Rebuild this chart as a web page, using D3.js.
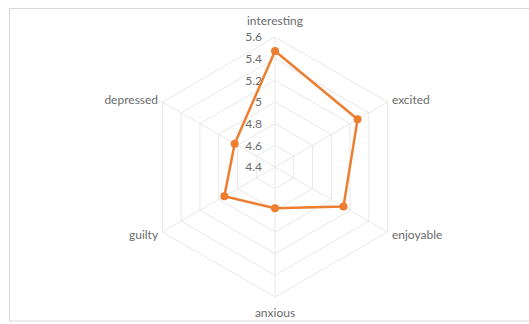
<!DOCTYPE html>
<html>
<head>
<meta charset="utf-8">
<script src="https://cdn.jsdelivr.net/npm/d3@7"></script>
<style>
  body { margin: 0; background: #fff; }
  svg { display: block; }
  text { font-family: Lato, "Open Sans", sans-serif; }
</style>
</head>
<body>
<svg id="radar" width="529" height="324"></svg>
<script>
"use strict";

// Data
var categories = ["interesting", "excited", "enjoyable", "anxious", "guilty", "depressed"];
var values = [5.47, 5.28, 5.13, 4.78, 4.94, 4.83];
var ticks = [4.4, 4.6, 4.8, 5.0, 5.2, 5.4, 5.6];

window.onload = function() {

  var svg = d3.select("#radar");
  var cx = 275;
  var cy = 167;
  var R = 130;
  var orange = "#ED7D31";
  var gridColour = "#e8e8e8";
  var textColour = "#6b6b6b";

  // chart area border
  svg.append("rect")
     .attr("x", 9.5)
     .attr("y", 8.5)
     .attr("width", 540)
     .attr("height", 312.5)
     .attr("fill", "none")
     .attr("stroke", "#d9d9d9");

  var r = d3.scaleLinear().domain([ticks[0], ticks[ticks.length - 1]]).range([0, R]);
  var angle = d3.scalePoint().domain(categories).range([0, 2 * Math.PI * 5 / 6]);

  var g = svg.append("g").attr("transform", "translate(" + cx + "," + cy + ")");

  function xy(cat, rad) {
    var a = angle(cat);
    return [rad * Math.sin(a), -rad * Math.cos(a)];
  }

  // hexagon gridlines
  var gridLine = d3.line().curve(d3.curveLinearClosed);
  ticks.slice(1).forEach(function(t) {
    g.append("path")
     .attr("d", gridLine(categories.map(function(c) { return xy(c, r(t)); })))
     .attr("fill", "none")
     .attr("stroke", gridColour)
     .attr("stroke-width", 1);
  });

  // spokes
  categories.forEach(function(c) {
    var p = xy(c, R);
    g.append("line")
     .attr("x1", 0).attr("y1", 0)
     .attr("x2", p[0]).attr("y2", p[1])
     .attr("stroke", gridColour);
  });

  // tick labels on the top axis
  ticks.forEach(function(t) {
    g.append("text")
     .attr("x", -13)
     .attr("y", -r(t))
     .attr("dy", "0.35em")
     .attr("text-anchor", "end")
     .attr("font-size", 12)
     .attr("fill", textColour)
     .text(d3.format("~g")(t));
  });

  // category labels
  categories.forEach(function(c) {
    var s = Math.sin(angle(c));
    var side = Math.abs(s) > 0.01;
    var p = xy(c, side ? R + 5 : R + 16);
    g.append("text")
     .attr("x", p[0])
     .attr("y", p[1])
     .attr("dy", "0.35em")
     .attr("text-anchor", side ? (s > 0 ? "start" : "end") : "middle")
     .attr("font-size", 12)
     .attr("fill", textColour)
     .text(c);
  });

  // series
  var line = d3.lineRadial()
               .angle(function(d, i) { return angle(categories[i]); })
               .radius(function(d) { return r(d); })
               .curve(d3.curveLinearClosed);

  g.append("path")
   .attr("d", line(values))
   .attr("fill", "none")
   .attr("stroke", orange)
   .attr("stroke-width", 2.5)
   .attr("stroke-linejoin", "round");

  g.selectAll("circle.pt")
   .data(values)
   .enter().append("circle")
   .attr("class", "pt")
   .attr("cx", function(d, i) { return xy(categories[i], r(d))[0]; })
   .attr("cy", function(d, i) { return xy(categories[i], r(d))[1]; })
   .attr("r", 4)
   .attr("fill", orange);
};
</script>
</body>
</html>
